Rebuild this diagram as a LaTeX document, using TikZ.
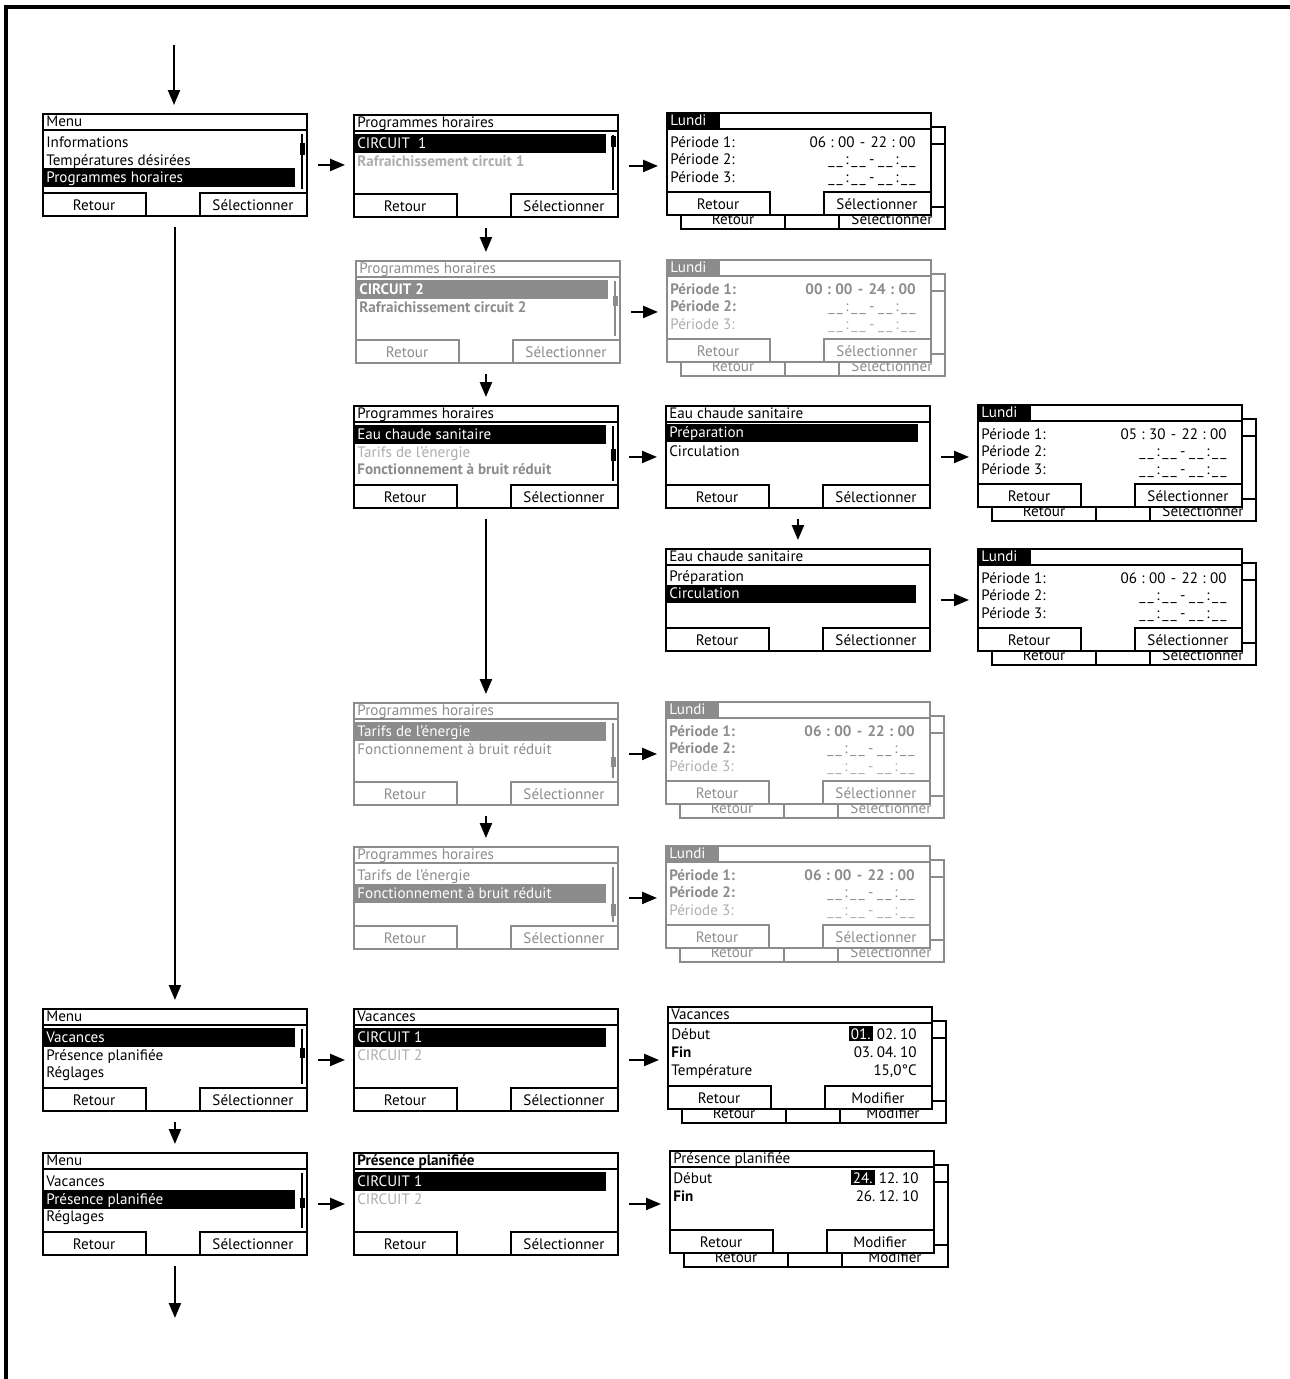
\documentclass[tikz,border=0pt]{standalone}
\usepackage{fontspec}
\setmainfont{PT Sans}
\usetikzlibrary{arrows.meta}

\definecolor{gry}{gray}{0.55}
\definecolor{lgry}{gray}{0.68}

\newcommand{\scrfont}{\fontsize{8.6}{10}\selectfont}

\tikzset{
  scr/.style={line width=1.1pt, minimum width=5.28cm, minimum height=2.04cm, inner sep=0pt, fill=white},
  scrline/.style={line width=1.1pt},
  bar/.style={line width=0.9pt},
  txt/.style={anchor=base west, inner sep=0pt},
  rtxt/.style={anchor=base east, inner sep=0pt},
  btn/.style={anchor=base, inner sep=0pt},
  bold/.style={font=\scrfont\bfseries},
  mark box/.style={anchor=base east, inner sep=1.2pt, fill=black, text=white},
  arr/.style={line width=1.3pt, -{Triangle[length=0.3cm, width=0.24cm]}, shorten <=0.2cm, shorten >=0.16cm},
}

\newcommand{\screen}[5]{%
  \node[scr, draw=#4, anchor=north west] (#1) at (#2,#3) {};
  \begin{scope}[shift={(#2,#3)}, #4]
    \draw[scrline] (0,17) -- (264,17);
    \draw[scrline] (0,80) -- (104,80) -- (104,102);
    \draw[scrline] (264,80) -- (158,80) -- (158,102);
    \node[btn] at (52,97.5) {Retour};
    \node[btn] at (211,97.5) {#5};
  \end{scope}}

\newcommand{\backscreen}[4]{%
  \begin{scope}[shift={(#1+15,#2+15)}, #3]
    \draw[scrline, fill=white] (0,0) rectangle (264,102);
    \draw[scrline] (0,17) -- (264,17);
    \draw[scrline] (0,80) -- (104,80) -- (104,102);
    \draw[scrline] (264,80) -- (158,80) -- (158,102);
    \node[btn] at (52,97.5) {Retour};
    \node[btn] at (211,97.5) {#4};
  \end{scope}}

\newcommand{\tm}[4]{#1\hspace{2.5pt}:\hspace{2.5pt}#2\hspace{3pt}-\hspace{3pt}#3\hspace{2.5pt}:\hspace{2.5pt}#4}
\newcommand{\us}{\_\hspace{1.2pt}\_}
\newcommand{\notime}{\us\hspace{1.5pt}:\hspace{1.5pt}\us\hspace{2pt}-\hspace{2pt}\us\hspace{1.5pt}:\hspace{1.5pt}\us}

\begin{document}
\begin{tikzpicture}[x=0.02cm, y=-0.02cm, font=\scrfont]
\useasboundingbox (0,0) rectangle (1290,1379);
\draw[line width=2pt] (6,1379) -- (6,7) -- (1290,7);

\screen{m1}{42}{113}{black}{Sélectionner}
\begin{scope}[shift={(42,113)}]
  \node[txt] at (4,13.5) {Menu};
  \node[txt] at (4,34.5) {Informations};
  \node[txt] at (4,52) {Températures désirées};
  \fill (1,55) rectangle (253,74);
  \node[txt, white] at (4,69.5) {Programmes horaires};
  \draw[bar] (260,21) -- (260,76);
  \fill (257.5,30) rectangle (262.5,42);
\end{scope}

\screen{p1}{353}{114}{black}{Sélectionner}
\begin{scope}[shift={(353,114)}]
  \node[txt] at (4,13.5) {Programmes horaires};
  \fill (1,20) rectangle (253,39);
  \node[txt, white] at (4,34.5) {CIRCUIT\ \ 1};
  \node[txt, lgry, bold] at (4,52) {Rafraichissement circuit 1};
  \draw[bar] (260,21) -- (260,76);
  \fill (257.5,22) rectangle (262.5,33);
\end{scope}

\backscreen{666}{112}{black}{Sélectionner}
\screen{l1}{666}{112}{black}{Sélectionner}
\begin{scope}[shift={(666,112)}]
  \fill (0,0) rectangle (54,17);
  \node[txt, white] at (4,13.5) {Lundi};
  \node[txt] at (4,35) {Période 1:};
  \node[txt] at (4,52.5) {Période 2:};
  \node[txt] at (4,70) {Période 3:};
  \node[rtxt] at (250,35) {\tm{06}{00}{22}{00}};
  \node[rtxt] at (250,52.5) {\notime};
  \node[rtxt] at (250,70) {\notime};
\end{scope}

\screen{p2}{355}{260}{gry}{Sélectionner}
\begin{scope}[shift={(355,260)}, gry]
  \node[txt] at (4,13.5) {Programmes horaires};
  \fill (1,20) rectangle (253,39);
  \node[txt, white, bold] at (4,34.5) {CIRCUIT 2};
  \node[txt, bold] at (4,52) {Rafraichissement circuit 2};
  \draw[bar] (260,21) -- (260,76);
  \fill (257.5,36) rectangle (262.5,46);
\end{scope}

\backscreen{666}{259}{gry}{Sélectionner}
\screen{l2}{666}{259}{gry}{Sélectionner}
\begin{scope}[shift={(666,259)}, gry]
  \fill (0,0) rectangle (54,17);
  \node[txt, white] at (4,13.5) {Lundi};
  \node[txt, bold] at (4,35) {Période 1:};
  \node[txt, bold] at (4,52.5) {Période 2:};
  \node[txt, lgry] at (4,70) {Période 3:};
  \node[rtxt, bold] at (250,35) {\tm{00}{00}{24}{00}};
  \node[rtxt] at (250,52.5) {\notime};
  \node[rtxt, lgry] at (250,70) {\notime};
\end{scope}

\screen{p3}{353}{405}{black}{Sélectionner}
\begin{scope}[shift={(353,405)}]
  \node[txt] at (4,13.5) {Programmes horaires};
  \fill (1,20) rectangle (253,39);
  \node[txt, white] at (4,34.5) {Eau chaude sanitaire};
  \node[txt, lgry] at (4,52) {Tarifs de l'énergie};
  \node[txt, gry, bold] at (4,69.5) {Fonctionnement à bruit réduit};
  \draw[bar] (260,21) -- (260,76);
  \fill (257.5,44) rectangle (262.5,56);
\end{scope}

\screen{e1}{665}{405}{black}{Sélectionner}
\begin{scope}[shift={(665,405)}]
  \node[txt] at (4,13.5) {Eau chaude sanitaire};
  \fill (1,19) rectangle (253,37);
  \node[txt, white] at (4,32.5) {Préparation};
  \node[txt] at (4,51.5) {Circulation};
\end{scope}

\backscreen{977}{404}{black}{Sélectionner}
\screen{l3}{977}{404}{black}{Sélectionner}
\begin{scope}[shift={(977,404)}]
  \fill (0,0) rectangle (54,17);
  \node[txt, white] at (4,13.5) {Lundi};
  \node[txt] at (4,35) {Période 1:};
  \node[txt] at (4,52.5) {Période 2:};
  \node[txt] at (4,70) {Période 3:};
  \node[rtxt] at (250,35) {\tm{05}{30}{22}{00}};
  \node[rtxt] at (250,52.5) {\notime};
  \node[rtxt] at (250,70) {\notime};
\end{scope}

\screen{e2}{665}{548}{black}{Sélectionner}
\begin{scope}[shift={(665,548)}]
  \node[txt] at (4,13.5) {Eau chaude sanitaire};
  \node[txt] at (4,33) {Préparation};
  \fill (1,37) rectangle (251,55);
  \node[txt, white] at (4,50.5) {Circulation};
\end{scope}

\backscreen{977}{548}{black}{Sélectionner}
\screen{l4}{977}{548}{black}{Sélectionner}
\begin{scope}[shift={(977,548)}]
  \fill (0,0) rectangle (54,17);
  \node[txt, white] at (4,13.5) {Lundi};
  \node[txt] at (4,35) {Période 1:};
  \node[txt] at (4,52.5) {Période 2:};
  \node[txt] at (4,70) {Période 3:};
  \node[rtxt] at (250,35) {\tm{06}{00}{22}{00}};
  \node[rtxt] at (250,52.5) {\notime};
  \node[rtxt] at (250,70) {\notime};
\end{scope}

\screen{p4}{353}{702}{gry}{Sélectionner}
\begin{scope}[shift={(353,702)}, gry]
  \node[txt] at (4,13.5) {Programmes horaires};
  \fill (1,20) rectangle (253,39);
  \node[txt, white] at (4,34.5) {Tarifs de l'énergie};
  \node[txt] at (4,52) {Fonctionnement à bruit réduit};
  \draw[bar] (260,21) -- (260,76);
  \fill (257.5,55) rectangle (262.5,65);
\end{scope}

\backscreen{665}{701}{gry}{Sélectionner}
\screen{l5}{665}{701}{gry}{Sélectionner}
\begin{scope}[shift={(665,701)}, gry]
  \fill (0,0) rectangle (54,17);
  \node[txt, white] at (4,13.5) {Lundi};
  \node[txt, bold] at (4,35) {Période 1:};
  \node[txt, bold] at (4,52.5) {Période 2:};
  \node[txt, lgry] at (4,70) {Période 3:};
  \node[rtxt, bold] at (250,35) {\tm{06}{00}{22}{00}};
  \node[rtxt] at (250,52.5) {\notime};
  \node[rtxt, lgry] at (250,70) {\notime};
\end{scope}

\screen{p5}{353}{846}{gry}{Sélectionner}
\begin{scope}[shift={(353,846)}, gry]
  \node[txt] at (4,13.5) {Programmes horaires};
  \node[txt] at (4,34.5) {Tarifs de l'énergie};
  \fill (1,37.5) rectangle (253,56.5);
  \node[txt, white] at (4,52) {Fonctionnement à bruit réduit};
  \draw[bar] (260,21) -- (260,76);
  \fill (257.5,58) rectangle (262.5,70);
\end{scope}

\backscreen{665}{845}{gry}{Sélectionner}
\screen{l6}{665}{845}{gry}{Sélectionner}
\begin{scope}[shift={(665,845)}, gry]
  \fill (0,0) rectangle (54,17);
  \node[txt, white] at (4,13.5) {Lundi};
  \node[txt, bold] at (4,35) {Période 1:};
  \node[txt, bold] at (4,52.5) {Période 2:};
  \node[txt, lgry] at (4,70) {Période 3:};
  \node[rtxt, bold] at (250,35) {\tm{06}{00}{22}{00}};
  \node[rtxt] at (250,52.5) {\notime};
  \node[rtxt, lgry] at (250,70) {\notime};
\end{scope}

\screen{m2}{42}{1008}{black}{Sélectionner}
\begin{scope}[shift={(42,1008)}]
  \node[txt] at (4,13.5) {Menu};
  \fill (1,20) rectangle (253,39);
  \node[txt, white] at (4,34.5) {Vacances};
  \node[txt] at (4,52) {Présence planifiée};
  \node[txt] at (4,69.5) {Réglages};
  \draw[bar] (260,21) -- (260,76);
  \fill (257.5,40) rectangle (262.5,50);
\end{scope}

\screen{v1}{353}{1008}{black}{Sélectionner}
\begin{scope}[shift={(353,1008)}]
  \node[txt] at (4,13.5) {Vacances};
  \fill (1,20) rectangle (253,39);
  \node[txt, white] at (4,34.5) {CIRCUIT 1};
  \node[txt, lgry] at (4,52) {CIRCUIT 2};
\end{scope}

\backscreen{667}{1006}{black}{Modifier}
\screen{vd}{667}{1006}{black}{Modifier}
\begin{scope}[shift={(667,1006)}]
  \node[txt] at (4,13.5) {Vacances};
  \node[txt] at (4,33) {Début};
  \node[txt, bold] at (4,51) {Fin};
  \node[txt] at (4,69) {Température};
  \node[rtxt] (vdate) at (250,33) {02.\hspace{2pt}10};
  \node[mark box] at ([xshift=-0.07cm]vdate.base west) {01.};
  \node[rtxt] at (250,51) {03.\hspace{2pt}04.\hspace{2pt}10};
  \node[rtxt] at (250,69) {15,0°C};
\end{scope}

\screen{m3}{42}{1152}{black}{Sélectionner}
\begin{scope}[shift={(42,1152)}]
  \node[txt] at (4,13.5) {Menu};
  \node[txt] at (4,34.5) {Vacances};
  \fill (1,37.5) rectangle (253,56.5);
  \node[txt, white] at (4,52) {Présence planifiée};
  \node[txt] at (4,69.5) {Réglages};
  \draw[bar] (260,21) -- (260,76);
  \fill (257.5,46) rectangle (262.5,56);
\end{scope}

\screen{pp}{353}{1152}{black}{Sélectionner}
\begin{scope}[shift={(353,1152)}]
  \node[txt, bold] at (4,13.5) {Présence planifiée};
  \fill (1,20) rectangle (253,39);
  \node[txt, white] at (4,34.5) {CIRCUIT 1};
  \node[txt, lgry] at (4,52) {CIRCUIT 2};
\end{scope}

\backscreen{669}{1150}{black}{Modifier}
\screen{pd}{669}{1150}{black}{Modifier}
\begin{scope}[shift={(669,1150)}]
  \node[txt] at (4,13.5) {Présence planifiée};
  \node[txt] at (4,33) {Début};
  \node[txt, bold] at (4,51) {Fin};
  \node[rtxt] (pdate) at (250,33) {12.\hspace{2pt}10};
  \node[mark box] at ([xshift=-0.07cm]pdate.base west) {24.};
  \node[rtxt] at (250,51) {26.\hspace{2pt}12.\hspace{2pt}10};
\end{scope}

\coordinate (entry) at (174,45);
\coordinate (exit) at (174,1318);
\draw[arr, shorten <=0pt] (entry) -- (entry |- m1.north);
\draw[arr] (m1.east) -- (m1.east -| p1.west);
\draw[arr] (p1.east) -- (p1.east -| l1.west);
\draw[arr] (p1.south) -- (p1.south |- p2.north);
\draw[arr] (p2.east) -- (p2.east -| l2.west);
\draw[arr] (p2.south -| p1.south) -- (p1.south |- p3.north);
\draw[arr] (p3.east) -- (p3.east -| e1.west);
\draw[arr] (e1.east) -- (e1.east -| l3.west);
\draw[arr] (e1.south) -- (e1.south |- e2.north);
\draw[arr] (e2.east) -- (e2.east -| l4.west);
\draw[arr] (p3.south) -- (p3.south |- p4.north);
\draw[arr] (p4.east) -- (p4.east -| l5.west);
\draw[arr] (p4.south) -- (p4.south |- p5.north);
\draw[arr] (p5.east) -- (p5.east -| l6.west);
\draw[arr] (m1.south) -- (m1.south |- m2.north);
\draw[arr] (m2.east) -- (m2.east -| v1.west);
\draw[arr] (v1.east) -- (v1.east -| vd.west);
\draw[arr] (m2.south) -- (m2.south |- m3.north);
\draw[arr] (m3.east) -- (m3.east -| pp.west);
\draw[arr] (pp.east) -- (pp.east -| pd.west);
\draw[arr, shorten >=0pt] (m3.south) -- (m3.south |- exit);
\end{tikzpicture}
\end{document}
